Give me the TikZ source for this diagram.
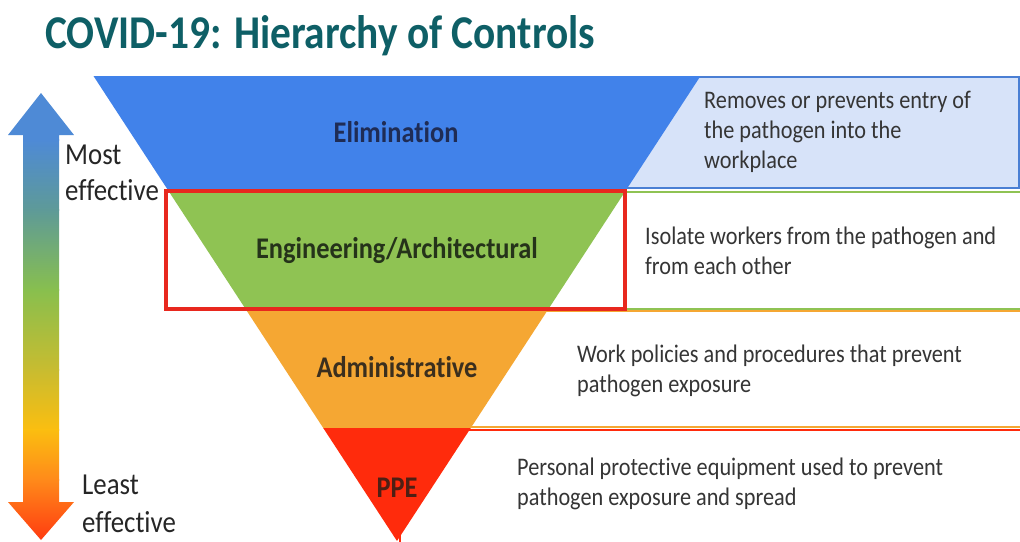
\documentclass[tikz,border=0pt]{standalone}
\usepackage{fontspec}
\setmainfont{Carlito}[FakeStretch=0.88, Ligatures=NoCommon]
\usetikzlibrary{calc}

\definecolor{titleteal}{HTML}{0E5F66}
\definecolor{elimblue}{HTML}{4182EA}
\definecolor{elimlight}{HTML}{D7E3F9}
\definecolor{elimedge}{HTML}{4A7FD4}
\definecolor{enggreen}{HTML}{8FC353}
\definecolor{admorange}{HTML}{F5A733}
\definecolor{ppered}{HTML}{FF2B0C}
\definecolor{boxred}{HTML}{E8281E}
\definecolor{desctext}{HTML}{353535}
\definecolor{elimtext}{HTML}{1F2C55}
\definecolor{engtext}{HTML}{25331A}
\definecolor{admtext}{HTML}{3B2F1E}
\definecolor{ppetext}{HTML}{4E1F14}
% effectiveness scale colours
\definecolor{scA}{HTML}{4E8AD6}
\definecolor{scB}{HTML}{5E9A98}
\definecolor{scC}{HTML}{88BF4E}
\definecolor{scD}{HTML}{C8BC30}
\definecolor{scE}{HTML}{FBBE10}
\definecolor{scF}{HTML}{FF8A1A}
\definecolor{scG}{HTML}{FF3A10}

\tikzset{
  bandlabel/.style={font=\fontsize{30}{36}\selectfont\bfseries, anchor=base, inner sep=0pt},
  desc/.style={font=\fontsize{25.3}{30}\selectfont, text=desctext, align=left, anchor=base west, inner sep=0pt},
  scalelabel/.style={font=\fontsize{30.5}{36}\selectfont, text=black!85, align=left, anchor=base west, inner sep=0pt},
  descbox/.style={line width=2pt},
}

\begin{document}
\begin{tikzpicture}[x=1pt,y=-1pt]
\useasboundingbox[fill=white] (0,0) rectangle (1020,541);

% title
\node[font=\fontsize{47}{50}\selectfont\bfseries, text=titleteal, anchor=base west, inner sep=0pt]
  (title) at (45,48) {COVID-19: Hierarchy of Controls};

% description panels to the right of each band
\draw[descbox, draw=elimedge, fill=elimlight] (400,77) rectangle (1019,188);
\draw[descbox, draw=enggreen, fill=white] (400,192) rectangle (1030,309);
\draw[descbox, draw=admorange, fill=white] (400,311) rectangle (1030,427);
\draw[descbox, draw=ppered, fill=white] (400,430) rectangle (1030,560);

% inverted triangle split into four bands
\coordinate (TL) at (93.5,76);
\coordinate (TR) at (700.5,76);
\coordinate (AP) at (397,541);
\coordinate (L1) at ($(TL)!0.24516!(AP)$);
\coordinate (R1) at ($(TR)!0.24516!(AP)$);
\coordinate (L2) at ($(TL)!0.50538!(AP)$);
\coordinate (R2) at ($(TR)!0.50538!(AP)$);
\coordinate (L3) at ($(TL)!0.75699!(AP)$);
\coordinate (R3) at ($(TR)!0.75699!(AP)$);

\fill[elimblue] (TL) -- (TR) -- (R1) -- (L1) -- cycle;
\fill[enggreen] (L1) -- (R1) -- (R2) -- (L2) -- cycle;
\fill[admorange] (L2) -- (R2) -- (R3) -- (L3) -- cycle;
\fill[ppered] (L3) -- (R3) -- (AP) -- cycle;

\node[bandlabel, text=elimtext] (elim) at (396,142) {Elimination};
\node[bandlabel, text=engtext] (eng) at (397,258.5) {Engineering/Architectural};
\node[bandlabel, text=admtext] (adm) at (397,377) {Administrative};
\node[bandlabel, text=ppetext] (ppe) at (397,497) {PPE};

% highlight frame around the engineering band
\draw[boxred, line width=3.5pt] (166,191) rectangle (625,309);

% descriptions (anchored on the baseline of their last line)
\node[desc] (delim) at (704,168) {Removes or prevents entry of\\the pathogen into the\\workplace};
\node[desc] (deng) at (645,274) {Isolate workers from the pathogen and\\from each other};
\node[desc] (dadm) at (577,392) {Work policies and procedures that prevent\\pathogen exposure};
\node[desc] (dppe) at (517,505) {Personal protective equipment used to prevent\\pathogen exposure and spread};

% effectiveness scale arrow with colour gradient
\begin{scope}
  \clip (41,93) -- (74,135) -- (59,135) -- (59,502) -- (74,502) -- (41,540)
        -- (8,502) -- (23,502) -- (23,135) -- (8,135) -- cycle;
  \shade[top color=scA, bottom color=scA] (0,90) rectangle (80,140);
  \shade[top color=scA, bottom color=scB] (0,139.5) rectangle (80,210);
  \shade[top color=scB, bottom color=scC] (0,209.5) rectangle (80,290);
  \shade[top color=scC, bottom color=scD] (0,289.5) rectangle (80,370);
  \shade[top color=scD, bottom color=scE] (0,369.5) rectangle (80,430);
  \shade[top color=scE, bottom color=scF] (0,429.5) rectangle (80,480);
  \shade[top color=scF, bottom color=scG] (0,479.5) rectangle (80,541);
\end{scope}

\node[scalelabel] (most) at (65,200) {Most\\effective};
\node[scalelabel] (least) at (82,532) {Least\\[2pt]effective};

\end{tikzpicture}
\end{document}
